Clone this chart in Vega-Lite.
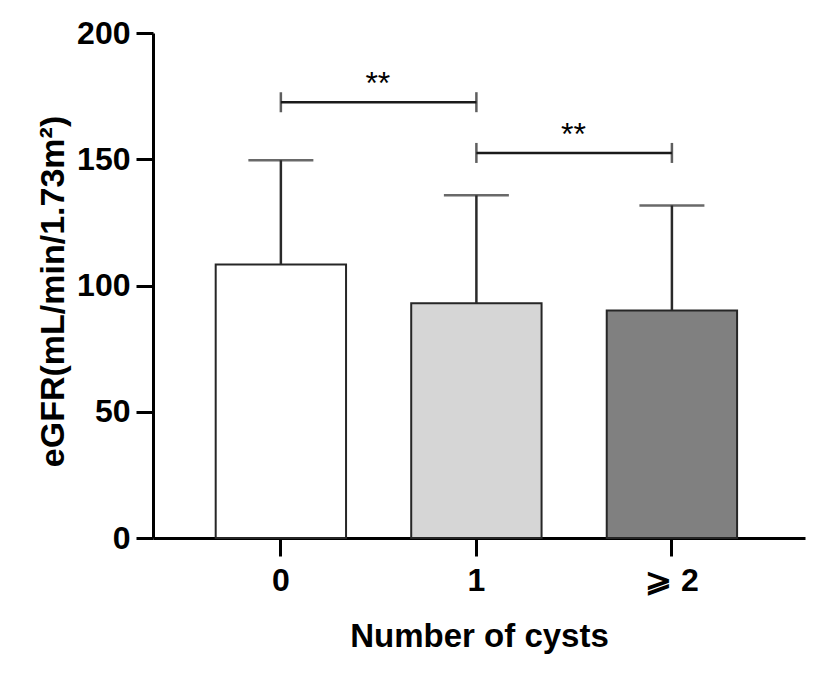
{
  "$schema": "https://vega.github.io/schema/vega-lite/v6.json",
  "description": "eGFR by number of cysts, mean with upper SD and significance brackets",
  "width": 652,
  "height": 505,
  "autosize": {"type": "none"},
  "padding": {"left": 153, "top": 33, "right": 22, "bottom": 138},
  "background": "white",
  "config": {
    "view": {"stroke": null},
    "font": "Liberation Sans",
    "axis": {
      "grid": false,
      "domainColor": "black",
      "domainWidth": 3,
      "tickColor": "black",
      "tickWidth": 3,
      "labelColor": "black",
      "titleColor": "black",
      "labelFont": "Liberation Sans",
      "titleFont": "Liberation Sans",
      "labelFontWeight": "bold",
      "titleFontWeight": "bold",
      "labelFontSize": 32,
      "titleFontSize": 33
    }
  },
  "datasets": {
    "groups": [
      {"cysts": "0", "mean": 108.3, "upper": 149.6},
      {"cysts": "1", "mean": 93.0, "upper": 135.7},
      {"cysts": "⩾ 2", "mean": 90.1, "upper": 131.7}
    ],
    "comparisons": [
      {"from": "0", "to": "1", "level": 172.6, "sig": "**"},
      {"from": "1", "to": "⩾ 2", "level": 152.5, "sig": "**"}
    ]
  },
  "encoding": {
    "y": {
      "type": "quantitative",
      "title": "eGFR(mL/min/1.73m²)",
      "scale": {"domain": [0, 200], "nice": false},
      "axis": {
        "values": [0, 50, 100, 150, 200],
        "tickSize": 17,
        "labelPadding": 6,
        "titleFontSize": 34,
        "titleBaseline": "alphabetic",
        "titleAngle": -90,
        "titleAlign": "center",
        "titleX": -90,
        "titleY": 258
      }
    }
  },
  "layer": [
    {
      "data": {"name": "groups"},
      "mark": {"type": "bar", "stroke": "#262626", "strokeWidth": 2},
      "encoding": {
        "x": {
          "field": "cysts",
          "type": "nominal",
          "title": "Number of cysts",
          "scale": {"domain": ["0", "1", "⩾ 2"], "paddingInner": 0.3333, "paddingOuter": 0.334, "align": 0.48},
          "axis": {"labelAngle": 0, "tickSize": 18, "labelPadding": 9, "titlePadding": 24}
        },
        "y": {"field": "mean"},
        "fill": {
          "field": "cysts",
          "type": "nominal",
          "scale": {"domain": ["0", "1", "⩾ 2"], "range": ["#ffffff", "#d6d6d6", "#808080"]},
          "legend": null
        }
      }
    },
    {
      "data": {"name": "groups"},
      "mark": {"type": "rule", "color": "#2a2a2a", "strokeWidth": 2.5},
      "encoding": {
        "x": {"field": "cysts", "type": "nominal", "title": "Number of cysts"},
        "y": {"field": "mean"},
        "y2": {"field": "upper"}
      }
    },
    {
      "data": {"name": "groups"},
      "mark": {"type": "tick", "color": "#2a2a2a", "size": 65, "thickness": 2.5},
      "encoding": {
        "x": {"field": "cysts", "type": "nominal", "title": "Number of cysts"},
        "y": {"field": "upper"}
      }
    },
    {
      "data": {"name": "comparisons"},
      "mark": {"type": "rule", "color": "#1a1a1a", "strokeWidth": 2.5},
      "encoding": {
        "x": {"field": "from", "type": "nominal", "title": "Number of cysts"},
        "x2": {"field": "to"},
        "y": {"field": "level"}
      }
    },
    {
      "data": {"name": "comparisons"},
      "mark": {"type": "tick", "orient": "vertical", "color": "#1a1a1a", "size": 20, "thickness": 2.5},
      "encoding": {
        "x": {"field": "from", "type": "nominal", "title": "Number of cysts"},
        "y": {"field": "level"}
      }
    },
    {
      "data": {"name": "comparisons"},
      "mark": {"type": "tick", "orient": "vertical", "color": "#1a1a1a", "size": 20, "thickness": 2.5},
      "encoding": {
        "x": {"field": "to", "type": "nominal", "title": "Number of cysts"},
        "y": {"field": "level"}
      }
    },
    {
      "data": {"name": "comparisons"},
      "mark": {"type": "text", "font": "Liberation Sans", "fontSize": 32, "color": "black", "dx": 97, "dy": -8, "baseline": "alphabetic"},
      "encoding": {
        "x": {"field": "from", "type": "nominal", "title": "Number of cysts"},
        "y": {"field": "level"},
        "text": {"field": "sig"}
      }
    }
  ]
}
